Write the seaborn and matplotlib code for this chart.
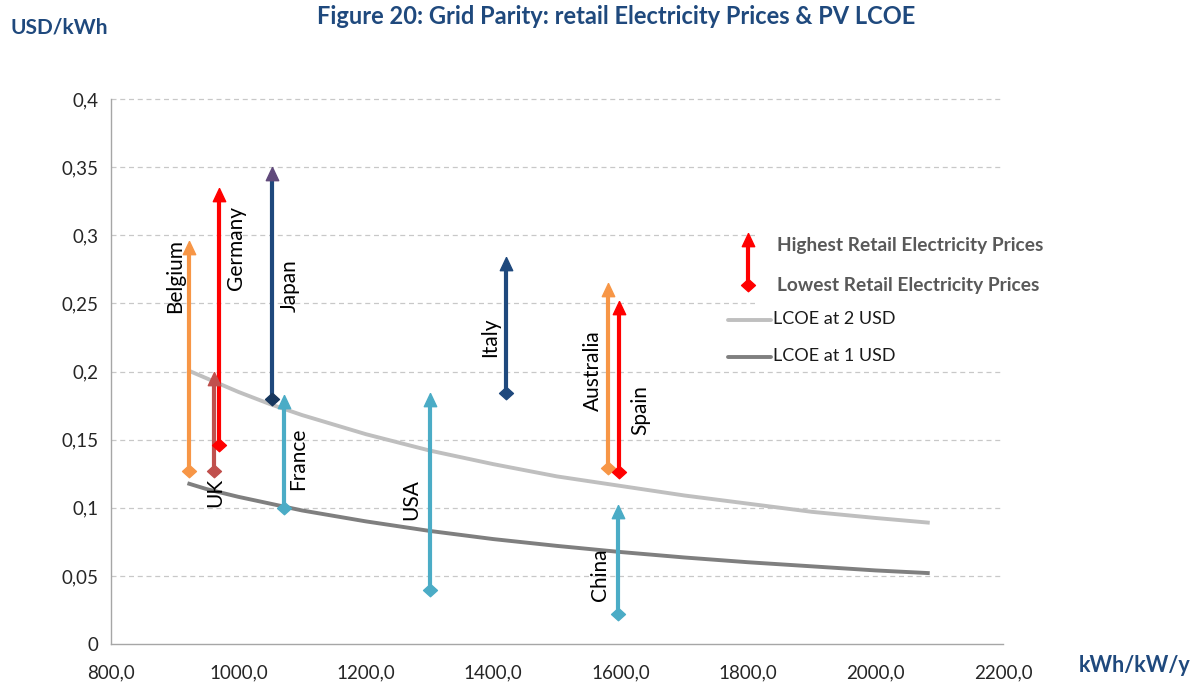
import numpy as np
import pandas as pd
import matplotlib
matplotlib.use("Agg")
import matplotlib.pyplot as plt
import seaborn as sns
from matplotlib.lines import Line2D
from matplotlib.patches import Rectangle
from matplotlib.ticker import FuncFormatter, MultipleLocator

# ---------------- data ----------------
countries = ["Belgium", "UK", "Germany", "Japan", "France", "USA", "Italy", "Australia", "Spain", "China"]
yield_kwh = [923, 962, 970, 1053, 1072, 1301, 1420, 1580, 1598, 1596]
price_low = [0.127, 0.127, 0.146, 0.180, 0.100, 0.040, 0.184, 0.129, 0.126, 0.022]
price_high = [0.296, 0.200, 0.335, 0.350, 0.183, 0.184, 0.284, 0.265, 0.252, 0.102]

lcoe_x = [920, 950, 1000, 1050, 1100, 1200, 1300, 1400, 1500, 1600, 1700, 1800, 1900, 2000, 2085]
lcoe_2usd = [0.201, 0.195, 0.185, 0.176, 0.168, 0.154, 0.142, 0.132, 0.123, 0.116, 0.109, 0.103, 0.097, 0.0925, 0.089]
lcoe_1usd = [0.118, 0.1137, 0.108, 0.103, 0.098, 0.090, 0.083, 0.077, 0.072, 0.0675, 0.0635, 0.060, 0.057, 0.054, 0.052]

# ---------------- styles ----------------
ORANGE, RED, BROWN, NAVY, CYAN = "#F79646", "#FF0000", "#C0504D", "#1F497D", "#4BACC6"
line_col = {"Belgium": ORANGE, "UK": BROWN, "Germany": RED, "Japan": NAVY, "France": CYAN,
            "USA": CYAN, "Italy": NAVY, "Australia": ORANGE, "Spain": RED, "China": CYAN}
head_col = dict(line_col, Japan="#604A7B")
foot_col = dict(line_col, Japan="#17375E")
# label anchor (x, y) in data units
label_pos = {"Belgium": (900, 0.270), "Germany": (996, 0.291), "Japan": (1081, 0.263),
             "UK": (963, 0.111), "France": (1093, 0.136), "USA": (1271, 0.106),
             "Italy": (1395, 0.225), "Australia": (1557, 0.201), "Spain": (1631, 0.172),
             "China": (1568, 0.051)}

sns.set_theme(style="white")
plt.rcParams['font.family'] = ['Lato', 'DejaVu Sans']

W, H = 1193, 684
fig = plt.figure(figsize=(W / 100, H / 100), dpi=100)
ax = fig.add_axes([111 / W, 1 - 644 / H, (1003 - 111) / W, (644 - 99) / H])

def fx(px):
    return px / W

def fy(py):
    return 1 - py / H

# LCOE curves
df = pd.DataFrame({"x": lcoe_x * 2,
                   "y": lcoe_2usd + lcoe_1usd,
                   "s": ["LCOE at 2 USD"] * len(lcoe_x) + ["LCOE at 1 USD"] * len(lcoe_x)})
sns.lineplot(data=df, x="x", y="y", hue="s", palette={"LCOE at 2 USD": "#BFBFBF", "LCOE at 1 USD": "#7F7F7F"},
             linewidth=2.8, legend=False, ax=ax, zorder=2, solid_capstyle="butt")

tri = [(0, 0), (-0.47, -1.0), (0.47, -1.0), (0, 0)]
dia = [(0, 0.9), (1, 0), (0, -0.9), (-1, 0), (0, 0.9)]

for c, x, lo, hi in zip(countries, yield_kwh, price_low, price_high):
    ax.vlines(x, lo, hi - 0.006, color=line_col[c], linewidth=3.0, zorder=3)
    ax.plot([x], [hi], marker=tri, markersize=19, color=head_col[c], linestyle="none", zorder=4)
    ax.plot([x], [lo], marker=dia, markersize=10, color=foot_col[c], linestyle="none", zorder=4)
    lx, ly = label_pos[c]
    ax.text(lx, ly, c, rotation=90, ha="center", va="center", fontsize=15, color="black", zorder=5)

ax.set_xlim(800, 2200)
ax.set_ylim(0, 0.4)
ax.xaxis.set_major_locator(MultipleLocator(200))
ax.yaxis.set_major_locator(MultipleLocator(0.05))
ax.xaxis.set_major_formatter(FuncFormatter(lambda v, p: f"{v:.1f}".replace(".", ",")))
ax.yaxis.set_major_formatter(FuncFormatter(lambda v, p: ("0" if abs(v) < 1e-9 else f"{v:g}".replace(".", ","))))
ax.set_xlabel("")
ax.set_ylabel("")

for s in ["top", "right"]:
    ax.spines[s].set_visible(False)
for s in ["left", "bottom"]:
    ax.spines[s].set_color("#A6A6A6")
    ax.spines[s].set_linewidth(1.0)
ax.tick_params(axis="both", which="major", direction="out", length=5, width=1, color="#A6A6A6",
               labelsize=13.5, labelcolor="#262626", pad=4)
ax.tick_params(axis="x", pad=10)

# dashed horizontal gridlines
for gy in np.arange(0.05, 0.401, 0.05):
    ax.plot([800, 2195], [gy, gy], color="#C8C8C8", linewidth=0.9, linestyle=(0, (4, 3)), zorder=0.5, clip_on=False)

# legend background box covering grid
ax.add_artist(Rectangle((fx(755), fy(362)), fx(1010) - fx(755), fy(222) - fy(362), transform=fig.transFigure,
                        facecolor="white", edgecolor="none", zorder=1, clip_on=False))

# legend: arrow symbol
fig.add_artist(Line2D([fx(748), fx(748)], [fy(284), fy(244)], color=RED, linewidth=3.0))
fig.add_artist(Line2D([fx(748)], [fy(233)], marker=tri, markersize=19, color=RED, linestyle="none"))
fig.add_artist(Line2D([fx(748)], [fy(285)], marker=dia, markersize=10, color=RED, linestyle="none"))
fig.text(fx(777), fy(245), "Highest Retail Electricity Prices", fontsize=13.8, fontweight="bold",
         color="#595959", ha="left", va="center")
fig.text(fx(777), fy(286), "Lowest Retail Electricity Prices", fontsize=13.8, fontweight="bold",
         color="#595959", ha="left", va="center")
fig.add_artist(Line2D([fx(728), fx(771)], [fy(320), fy(320)], color="#BFBFBF", linewidth=2.8))
fig.add_artist(Line2D([fx(728), fx(771)], [fy(357), fy(357)], color="#7F7F7F", linewidth=2.8))
fig.text(fx(773), fy(319), "LCOE at 2 USD", fontsize=13, color="#1a1a1a", ha="left", va="center")
fig.text(fx(773), fy(356), "LCOE at 1 USD", fontsize=13, color="#1a1a1a", ha="left", va="center")

# titles
fig.text(fx(616), fy(17), "Figure 20: Grid Parity: retail Electricity Prices & PV LCOE", fontsize=17,
         fontweight="bold", color="#1F497D", ha="center", va="center")
fig.text(fx(10), fy(28), "USD/kWh", fontsize=15, fontweight="bold", color="#1F497D", ha="left", va="center")
fig.text(fx(1190), fy(666), "kWh/kW/y", fontsize=15.5, fontweight="bold", color="#1F497D", ha="right", va="center")

fig.savefig("out.png", dpi=100)
